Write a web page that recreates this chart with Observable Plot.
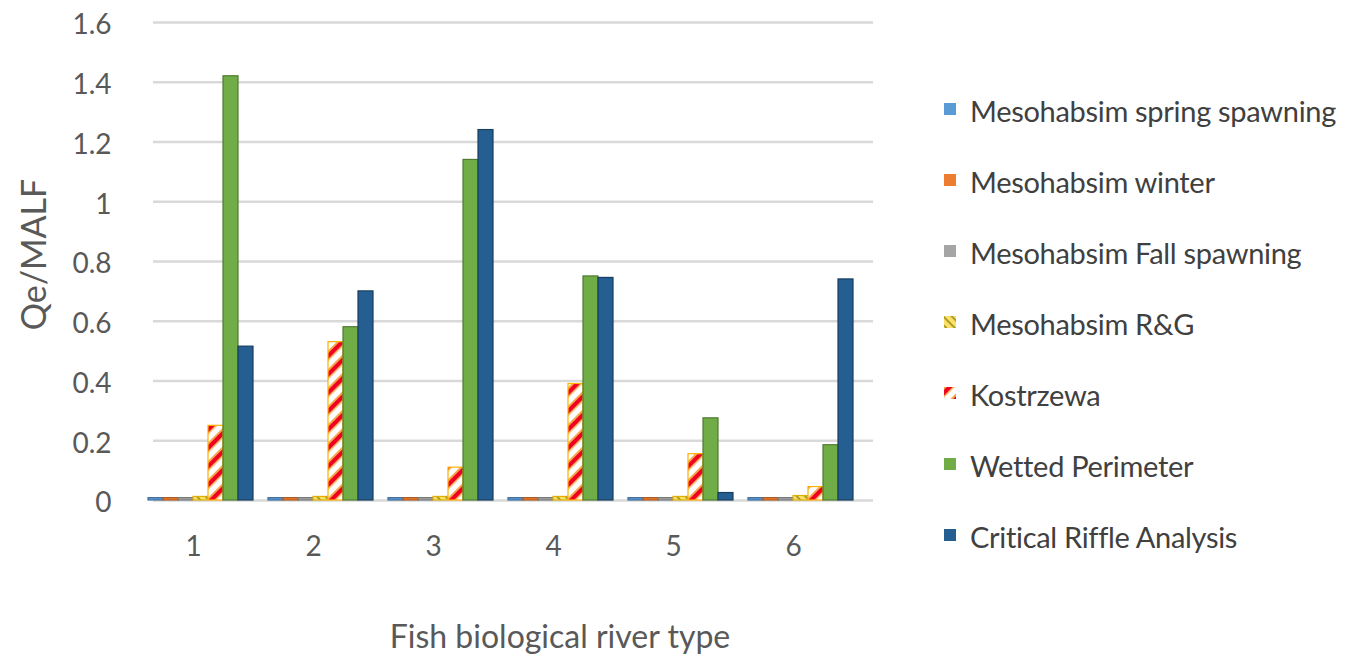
<!DOCTYPE html>
<html>
<head>
<meta charset="utf-8">
<script src="https://cdn.jsdelivr.net/npm/d3@7"></script>
<script src="https://cdn.jsdelivr.net/npm/@observablehq/plot@0.6"></script>
<style>
  body { margin: 0; background: #fff; font-family: Lato, "Open Sans", sans-serif; }
  #wrap { position: relative; width: 1351px; height: 658px; overflow: hidden; background: #fff; }
  #chart { position: absolute; left: 0; top: 0; }
  #legend { position: absolute; left: 944px; top: 75px; }
  .item { height: 71px; display: flex; align-items: center; }
  .item svg { flex: none; margin-right: 14px; margin-top: -4px; }
  .item span { font-size: 29px; color: #404040; white-space: nowrap; letter-spacing: -0.3px; }
  #xtitle { position: absolute; left: 0; width: 1120px; text-align: center; top: 616px; font-size: 32px; color: #595959; }
</style>
</head>
<body>
<div id="wrap">
  <div id="chart"></div>
  <div id="legend"></div>
  <div id="xtitle">Fish biological river type</div>
</div>
<script>
// ---- data ----
const groups = ["1", "2", "3", "4", "5", "6"];
const seriesNames = [
  "Mesohabsim spring spawning",
  "Mesohabsim winter",
  "Mesohabsim Fall spawning",
  "Mesohabsim R&G",
  "Kostrzewa",
  "Wetted Perimeter",
  "Critical Riffle Analysis"
];
const springSpawning = [0.008, 0.008, 0.008, 0.008, 0.008, 0.008];
const winter         = [0.008, 0.008, 0.008, 0.008, 0.008, 0.008];
const fallSpawning   = [0.008, 0.008, 0.008, 0.008, 0.008, 0.008];
const rg             = [0.012, 0.012, 0.012, 0.012, 0.012, 0.015];
const kostrzewa      = [0.25, 0.53, 0.11, 0.39, 0.155, 0.045];
const wettedPerim    = [1.42, 0.58, 1.14, 0.75, 0.275, 0.185];
const criticalRiffle = [0.515, 0.70, 1.24, 0.745, 0.025, 0.74];
const yTicks = [0, 0.2, 0.4, 0.6, 0.8, 1, 1.2, 1.4, 1.6];
const yTitle = ["Qe/MALF"];

const seriesValues = [springSpawning, winter, fallSpawning, rg, kostrzewa, wettedPerim, criticalRiffle];
const fills = ["#5B9BD5", "#ED7D31", "#A5A5A5", "url(#pat-rg)", "url(#pat-kos)", "#70AD47", "#255E91"];
const strokes = ["#41719C", "#AE5A21", "#787878", "#E0B000", "#FFB000", "#4E7A31", "#183E60"];

const data = [];
groups.forEach((g, i) => seriesNames.forEach((s, j) => data.push({group: g, series: s, value: seriesValues[j][i]})));

const chart = Plot.plot({
  width: 925,
  height: 658,
  marginLeft: 133,
  marginRight: 72,
  marginTop: 22,
  marginBottom: 158,
  style: {fontFamily: "Lato, 'Open Sans', sans-serif", fontSize: "28px", color: "#595959", background: "transparent", overflow: "visible"},
  fx: {domain: groups, paddingInner: 0, paddingOuter: 0, label: null},
  x: {domain: seriesNames, paddingInner: 0, paddingOuter: 0.5, axis: null},
  y: {domain: [0, 1.6], label: null},
  color: {domain: seriesNames, range: fills},
  marks: [
    Plot.gridY(yTicks, {stroke: "#D9D9D9", strokeOpacity: 1, strokeWidth: 2.5, dx: 20}),
    Plot.axisY(yTicks, {tickSize: 0, tickPadding: 22, fontSize: 28, label: null, tickFormat: d => String(+d.toFixed(1)), fill: "#595959", dy: 3}),
    Plot.axisFx({anchor: "bottom", tickSize: 0, tickPadding: 36, fontSize: 28, label: null, fill: "#595959"}),
    Plot.barY(data, {fx: "group", x: "series", y: "value", fill: "series", stroke: d => strokes[seriesNames.indexOf(d.series)], strokeWidth: 1.2, dx: 7}),
    Plot.text(yTitle, {frameAnchor: "left", facetAnchor: "left", textAnchor: "middle", rotate: -90, dx: -98, dy: -7, fontSize: 34, fill: "#595959"})
  ]
});

// pattern definitions for hatched series
const defs = d3.select(chart).insert("defs", ":first-child");
const pk = defs.append("pattern").attr("id", "pat-kos").attr("patternUnits", "userSpaceOnUse")
  .attr("width", 13).attr("height", 13).attr("patternTransform", "rotate(-45)");
pk.append("rect").attr("width", 13).attr("height", 13).attr("fill", "#FFFFFF");
pk.append("rect").attr("y", 0).attr("width", 13).attr("height", 2).attr("fill", "#F6A64A");
pk.append("rect").attr("y", 2).attr("width", 13).attr("height", 4).attr("fill", "#F00022");
pk.append("rect").attr("y", 6).attr("width", 13).attr("height", 1.5).attr("fill", "#F6A64A");
const pr = defs.append("pattern").attr("id", "pat-rg").attr("patternUnits", "userSpaceOnUse")
  .attr("width", 6).attr("height", 6).attr("patternTransform", "rotate(45)");
pr.append("rect").attr("width", 6).attr("height", 6).attr("fill", "#FFE066");
pr.append("rect").attr("width", 6).attr("height", 1.5).attr("fill", "#8A8A20");

document.getElementById("chart").appendChild(chart);

// legend (right side, vertical)
const legend = d3.select("#legend");
seriesNames.forEach((s, j) => {
  const item = legend.append("div").attr("class", "item");
  const sw = item.append("svg").attr("width", 12).attr("height", 12);
  sw.append("rect").attr("width", 12).attr("height", 12).attr("fill", fills[j]);
  item.append("span").text(s);
});
</script>
</body>
</html>
